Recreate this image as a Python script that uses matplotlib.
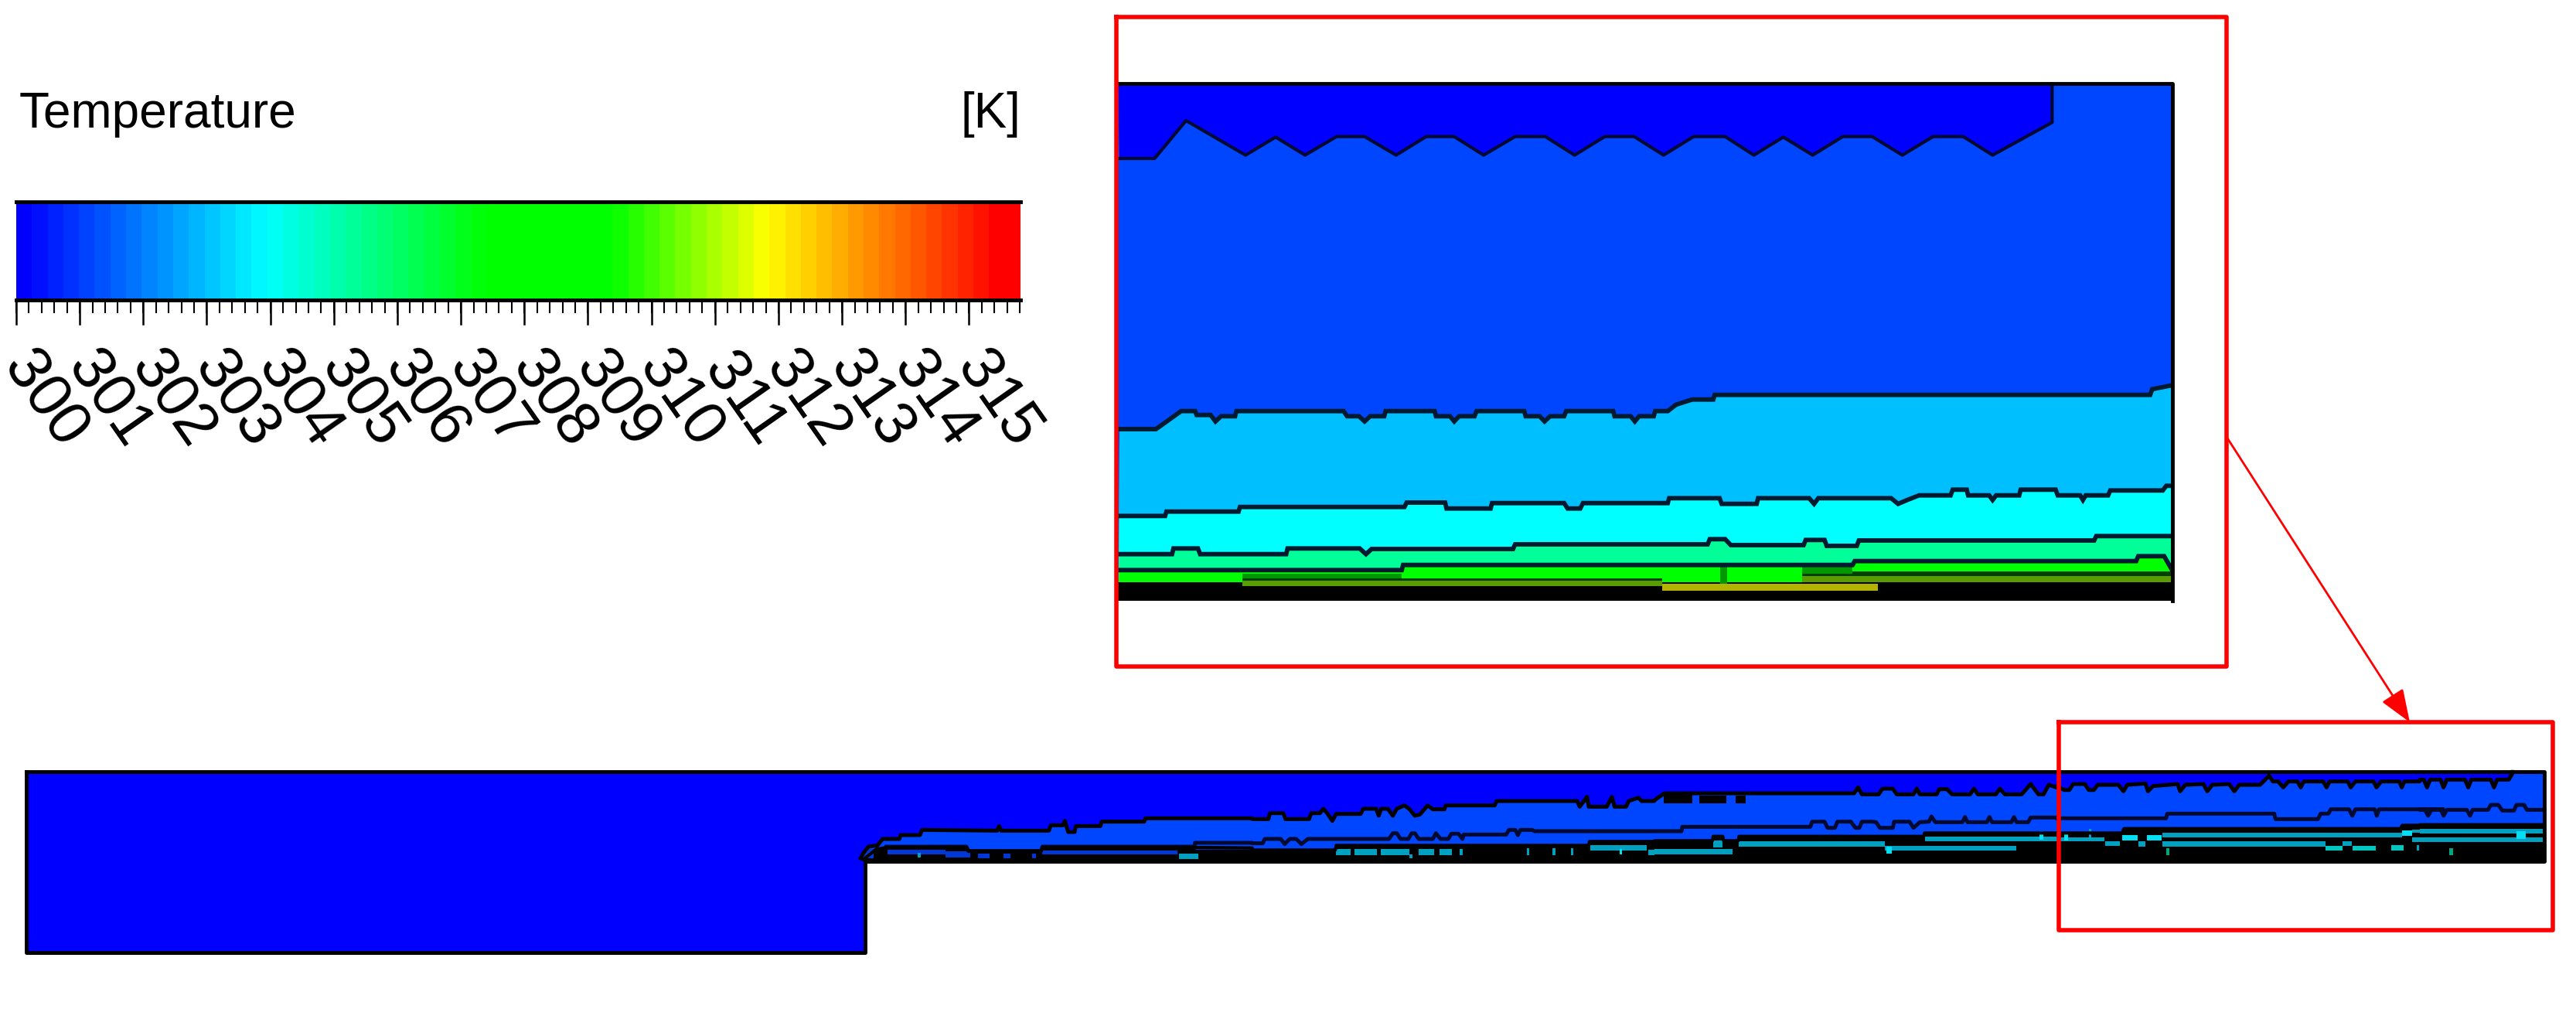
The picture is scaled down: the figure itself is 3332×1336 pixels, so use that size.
import matplotlib
matplotlib.use("Agg")
import matplotlib.pyplot as plt
import numpy as np
from matplotlib.colors import LinearSegmentedColormap

W, H = 3332, 1336
FONT = "Liberation Sans"

# legend
TICK_VALUES = list(range(300, 316))
CBAR_MIN, CBAR_MAX = 300, 315.81
CBAR_STOPS = [0.0, 0.245, 0.468, 0.595, 0.75, 0.985, 1.0]
CBAR_COLORS = ["#0000ff", "#00ffff", "#00ff00", "#00ff00", "#ffff00", "#ff0000", "#ff0000"]

DARK_BLUE = "#0000ff"
BLUE = "#0046ff"
SKY = "#00bfff"
CYAN = "#00ffff"
SPRING = "#00ff99"
GREEN = "#00ff00"
MID_GREEN = "#009800"
DARK_GREEN = "#004000"
OLIVE = "#5a9c00"
YELLOW = "#b4b400"
TEAL = "#00a0c0"
BRIGHT = "#00e0f5"
PALE = "#00c8c0"
SEA = "#00a880"
DEEP = "#0038d8"
NAVY = "#000a30"

INSET_1 = [(20,375),(70,375),(115,228),(200,362),(243,292),(285,362),(330,290),(370,290),(415,362),
           (458,290),(498,290),(540,362),(585,290),(628,290),(670,362),(713,290),(755,290),(797,362),
           (840,290),(885,290),(926,362),(968,292),(1010,362),(1053,290),(1095,290),(1138,362),
           (1182,290),(1225,290),(1267,362),(1352,235),(1352,85)]
INSET_2 = [(20,225),(72,225),(108,155),(128,155),(130,170),(150,170),(157,195),(165,175),(185,175),
           (187,155),(340,155),(345,175),(362,175),(370,195),(378,175),(398,175),(400,155),(470,155),
           (472,175),(492,175),(498,195),(505,175),(527,175),(530,155),(598,155),(600,175),(620,175),
           (627,195),(635,175),(655,175),(658,155),(725,155),(727,175),(750,175),(756,195),(762,175),
           (783,175),(785,155),(803,155),(815,130),(838,110),(868,110),(870,92),(1492,92),(1495,70),(1523,55)]
INSET_3 = [(20,562),(85,562),(87,545),(190,545),(192,527),(427,527),(430,510),(485,510),(487,533),
           (550,533),(552,512),(655,512),(660,533),(678,533),(682,512),(803,512),(805,493),(877,493),
           (880,515),(930,515),(932,493),(1005,493),(1012,515),(1018,493),(1122,493),(1132,515),
           (1145,500),(1162,482),(1207,482),(1210,460),(1230,460),(1232,482),(1262,482),(1267,500),
           (1272,482),(1305,482),(1307,460),(1357,460),(1360,482),(1392,482),(1396,500),(1400,482),
           (1432,482),(1435,463),(1510,463),(1515,445),(1523,445)]
INSET_4 = [(20,710),(95,710),(97,688),(132,688),(135,710),(258,710),(260,688),(363,688),(372,710),
           (380,690),(582,690),(585,672),(860,672),(863,652),(885,652),(893,675),(997,675),(1000,655),
           (1027,655),(1030,678),(1073,678),(1076,657),(1412,657),(1415,640),(1523,640)]
INSET_5 = [(20,772),(423,772),(425,752),(1067,752),(1070,737),(1472,737),(1475,718),(1512,718),(1523,770)]
INSET_BLOCKS = [(20,195,785,815,GREEN),(195,423,785,805,MID_GREEN),(195,795,805,812,DARK_GREEN),
                (195,795,812,835,OLIVE),(423,795,765,797,GREEN),(795,995,765,800,GREEN),
                (795,1103,825,852,YELLOW),(995,1067,760,785,MID_GREEN),(995,1103,785,795,DARK_GREEN),
                (995,1523,795,818,OLIVE),(1067,1523,750,778,GREEN),(1067,1523,778,795,DARK_GREEN),
                (878,888,760,825,MID_GREEN)]

# lower domain, one set of lists per crop of the reference, crop corner first
CROP_A = (1100, 1030)
CROP_B = (1620, 1010)
CROP_C = (2140, 1000)
CROP_D = (2660, 990)
CROP_E = (3130, 985)

TOP_A = [(40,240),(50,220),(70,195),(105,190),(125,165),(190,165),(195,150),(270,150),(278,130),(570,133),
         (577,115),(585,133),(770,133),(778,112),(825,112),(832,95),(845,138),(870,138),(875,115),(970,115),
         (975,98),(1140,98),(1145,85),(1559,85)]
TOP_B = [(0,148),(62,148),(68,125),(120,125),(128,148),(220,148),(228,125),(262,125),(275,108),(290,125),
         (310,155),(325,128),(420,128),(430,108),(480,108),(490,135),(500,108),(525,108),(545,135),(560,108),
         (590,95),(610,110),(630,135),(650,130),(680,95),(700,110),(745,110),(750,95),(940,95),(948,78),
         (1260,78),(1270,100),(1298,62),(1305,100),(1375,100),(1395,62),(1405,100),(1450,100),(1460,78),
         (1498,65),(1510,78),(1559,78)]
TOP_C = [(0,105),(38,78),(775,78),(790,55),(805,82),(870,82),(885,60),(925,60),(940,82),(1005,82),(1018,60),
         (1030,82),(1095,82),(1105,62),(1135,62),(1155,82),(1225,82),(1240,60),(1255,82),(1325,82),(1340,60),
         (1360,82),(1425,82),(1460,42),(1490,82),(1510,82),(1530,45),(1559,55)]
TOP_D = [(0,80),(30,95),(50,95),(65,72),(110,72),(125,95),(145,95),(160,75),(240,75),(260,100),(275,75),
         (345,70),(355,100),(375,80),(470,72),(480,100),(500,75),(570,72),(585,100),(605,75),(670,72),
         (690,100),(710,75),(790,75),(825,40),(840,62),(860,62),(880,85),(900,62),(935,62),(948,85),(960,62),
         (1035,62),(1048,85),(1060,62),(1130,62),(1142,85),(1160,62),(1230,62),(1242,85),(1260,62),(1330,62),
         (1340,85),(1350,62),(1409,62)]
TOP_E = [(0,70),(15,70),(28,100),(40,70),(80,70),(92,100),(105,70),(175,70),(188,100),(200,70),(275,70),
         (288,100),(300,70),(345,70),(360,45),(360,40)]

MID_A = [(140,195),(450,195),(458,212),(740,212),(745,195),(1335,195),(1337,180),(1559,180)]
MID_B = [(0,242),(40,242),(48,225),(110,225),(125,245),(145,225),(170,225),(190,245),(215,225),(530,225),
         (545,203),(560,203),(575,225),(605,225),(618,203),(630,203),(645,225),(700,225),(712,203),(730,225),
         (760,225),(772,205),(800,205),(815,225),(820,208),(985,208),(995,190),(1020,190),(1030,210),(1040,190),
         (1085,190),(1095,195),(1559,195)]
MID_C = [(0,225),(105,225),(108,208),(605,208),(612,188),(660,188),(672,212),(700,212),(710,188),(762,188),
         (780,212),(795,212),(805,188),(845,188),(860,190),(875,212),(925,212),(930,188),(990,188),(1005,212),
         (1030,190),(1065,188),(1075,168),(1090,190),(1195,190),(1205,170),(1215,190),(1290,190),(1300,170),
         (1310,190),(1385,190),(1395,170),(1405,190),(1450,190),(1460,172),(1559,172)]
MID_D = [(0,205),(425,205),(430,187),(845,187),(850,208),(1015,208),(1025,187),(1055,187),(1065,170),(1135,170),
         (1148,195),(1160,170),(1235,170),(1243,195),(1252,170),(1438,170),(1443,190),(1450,170),(1500,170),
         (1409,170)]
MID_E = [(0,187),(20,187),(32,210),(45,187),(82,187),(92,210),(105,187),(182,187),(195,210),(205,187),(265,187),
         (275,168),(305,168),(320,190),(365,190),(375,168),(405,168),(415,187),(478,187)]

BOT_A = [(50,245),(100,205),(140,198),(450,198),(458,212),(740,212),(745,198),(1335,198),(1559,200)]
BOT_B = [(0,268),(322,268),(325,250),(1305,250),(1308,235),(1559,235)]
BOT_C = [(0,262),(225,262),(228,245),(265,245),(268,262),(325,262),(328,245),(1045,245),(1048,232),(1559,232)]
BOT_D = [(0,262),(255,262),(262,245),(1335,245),(1342,232),(1409,232)]
BOT_E = [(0,245),(478,245)]

BLOCKS_A = [(50,90,205,240,DEEP),(145,370,208,225,DEEP),(370,465,212,238,DEEP),(495,540,222,240,DEEP),
            (595,620,222,240,DEEP),(705,720,222,240,DEEP),(745,1270,210,225,DEEP),(1337,1559,195,208,DEEP),
            (262,272,218,238,TEAL),(1275,1350,222,243,TEAL)]
BLOCKS_B = [(325,382,265,288,TEAL),(397,482,265,288,TEAL),(497,610,265,288,TEAL),(610,622,285,300,TEAL),
            (645,705,265,288,TEAL),(725,775,265,288,TEAL),(803,815,265,288,TEAL),(1065,1075,262,288,TEAL),
            (1165,1175,262,288,TEAL),(1235,1245,262,288,TEAL),(1310,1530,250,270,TEAL),(1425,1435,265,285,BRIGHT),
            (1535,1559,268,288,TEAL)]
BLOCKS_C = [(35,148,80,118,"black"),(175,278,88,118,"black"),(315,355,88,118,"black"),(0,303,295,315,TEAL),
            (228,265,262,288,TEAL),(328,895,265,285,TEAL),(895,1405,282,300,TEAL),(900,920,285,312,BRIGHT),
            (1050,1559,245,265,TEAL),(1495,1508,225,258,BRIGHT)]
BLOCKS_D = [(0,185,280,295,TEAL),(30,45,262,290,BRIGHT),(125,135,245,290,TEAL),(190,245,295,312,TEAL),
            (255,315,270,290,BRIGHT),(318,345,295,315,TEAL),(350,408,270,290,BRIGHT),(410,1340,262,280,TEAL),
            (410,1045,295,315,TEAL),(1045,1110,312,330,PALE),(1110,1145,295,312,TEAL),(1150,1240,312,330,PALE),
            (1298,1348,310,330,PALE),(1340,1380,252,272,BRIGHT),(1380,1409,248,262,TEAL),(1380,1409,280,297,TEAL),
            (425,438,322,348,SEA),(1398,1408,310,330,TEAL)]
BLOCKS_E = [(0,478,260,278,TEAL),(0,478,295,313,TEAL),(375,410,270,300,BRIGHT),(115,130,335,362,SEA)]


def crop(pts, corner, sx=3.0, sy=3.0):
    arr = np.array(pts, dtype=float)
    return arr[:, 0] / sx + corner[0], arr[:, 1] / sy + corner[1]


def inset(pts):
    return crop(pts, (1430, 480), 1568 / 1420, 3)


def joined(*parts):
    xs, ys = [], []
    for pts, corner in parts:
        x, y = crop(pts, corner)
        xs.append(x)
        ys.append(y)
    return np.concatenate(xs), np.concatenate(ys)


def rect(ax, x0, x1, y0, y1, color, z):
    ax.fill([x0, x1, x1, x0], [y0, y0, y1, y1], color=color, lw=0, zorder=z)


fig = plt.figure(figsize=(W / 100, H / 100), dpi=100)
ax = fig.add_axes([0, 0, 1, 1])

# legend
ax.text(25, 165, "Temperature", fontsize=46, family=FONT, ha="left", va="baseline")
ax.text(1320, 165, "[K]", fontsize=46, family=FONT, ha="right", va="baseline")

cmap = LinearSegmentedColormap.from_list("cfd", list(zip(CBAR_STOPS, CBAR_COLORS)), N=64)
cb_x0, cb_x1, cb_y0, cb_y1 = 21, 1320, 261, 388
scale = (cb_x1 - cb_x0) / (CBAR_MAX - CBAR_MIN)
ax.imshow(np.linspace(0, 1, 64)[None, :], cmap=cmap, extent=[cb_x0, cb_x1, cb_y1, cb_y0],
          aspect="auto", interpolation="nearest", zorder=2)
ax.set_xlim(0, W)
ax.set_ylim(H, 0)
ax.axis("off")
ax.plot([cb_x0, cb_x1], [cb_y0, cb_y0], color="black", lw=3.5, zorder=3)
ax.plot([cb_x0, cb_x1], [cb_y1, cb_y1], color="black", lw=3.5, zorder=3)
for v in np.arange(CBAR_MIN, CBAR_MAX, 0.2):
    x = cb_x0 + (v - CBAR_MIN) * scale
    ax.plot([x, x], [cb_y1, 404], color="black", lw=1.5, zorder=3)
for t in TICK_VALUES:
    x = cb_x0 + (t - CBAR_MIN) * scale
    ax.plot([x, x], [cb_y1, 419], color="black", lw=1.8, zorder=3)
    ax.text(x + 37, 517, str(t), fontsize=57, family=FONT, rotation=-55, ha="center", va="center")

# upper inset
ix0, ix1, iy0, iy1 = 1446, 2810, 108, 777
rect(ax, ix0, ix1, iy0, iy1, BLUE, 2)
x1, y1 = crop(INSET_1, (1430, 80), 1568 / 1420, 3)
ax.fill(np.r_[ix0, x1], np.r_[iy0, y1], color=DARK_BLUE, lw=0, zorder=3)
for i, (pts, col) in enumerate([(INSET_2, SKY), (INSET_3, CYAN), (INSET_4, SPRING), (INSET_5, GREEN)]):
    x, y = inset(pts)
    ax.fill(np.r_[x, ix1, ix0], np.r_[y, iy1, iy1], color=col, lw=0, zorder=4 + i)
_, floor_y = inset([(0, 818)])
rect(ax, ix0, ix1, floor_y[0], iy1, "black", 9)
for bx0, bx1, by0, by1, col in INSET_BLOCKS:
    xs, ys = inset([(bx0, by0), (bx1, by1)])
    rect(ax, xs[0], xs[1], ys[0], ys[1], col, 10)
ax.plot(x1, y1, color=NAVY, lw=3, zorder=11)
for pts in [INSET_2, INSET_3, INSET_4, INSET_5]:
    x, y = inset(pts)
    ax.plot(x, y, color="#001a30", lw=4.2, zorder=11, solid_joinstyle="miter")
ax.plot([ix0, ix1, ix1], [iy0, iy0, iy1], color="black", lw=3.5, zorder=12)

# lower domain
lx0, lstep, lx1, ltop, lchan, lbot = 34, 1119, 3291, 998, 1114, 1232
rect(ax, lx0, lstep, ltop, lbot, DARK_BLUE, 2)
rect(ax, lstep, lx1, ltop, lchan, DARK_BLUE, 2)
top_x, top_y = joined((TOP_A, CROP_A), (TOP_B, CROP_B), (TOP_C, CROP_C), (TOP_D, CROP_D), (TOP_E, CROP_E))
mid_x, mid_y = joined((MID_A, CROP_A), (MID_B, CROP_B), (MID_C, CROP_C), (MID_D, CROP_D), (MID_E, CROP_E))
bot_x, bot_y = joined((BOT_A, CROP_A), (BOT_B, CROP_B), (BOT_C, CROP_C), (BOT_D, CROP_D), (BOT_E, CROP_E))
ax.fill(np.r_[top_x, lx1, lx1, lstep], np.r_[top_y, ltop, lchan, lchan], color=BLUE, lw=0, zorder=3)
ax.fill(np.r_[bot_x, lx1, lstep], np.r_[bot_y, lchan, lchan], color="black", lw=0, zorder=4)
for blocks, corner in [(BLOCKS_A, CROP_A), (BLOCKS_B, CROP_B), (BLOCKS_C, CROP_C), (BLOCKS_D, CROP_D), (BLOCKS_E, CROP_E)]:
    for bx0, bx1, by0, by1, col in blocks:
        xs, ys = crop([(bx0, by0), (bx1, by1)], corner)
        rect(ax, xs[0], xs[1], ys[0], ys[1], col, 5)
ax.plot(top_x, top_y, color="black", lw=3.6, zorder=6)
ax.plot(mid_x, mid_y, color=NAVY, lw=3.6, zorder=6)
ax.plot(bot_x, bot_y, color="black", lw=3, zorder=6)
ax.plot([lx0, lx1, lx1, lstep, lstep, lx0, lx0], [ltop, ltop, lchan, lchan, lbot, lbot, ltop],
        color="black", lw=3.5, zorder=7)

# red call-out boxes and arrow
ax.plot([1444, 2880, 2880, 1444, 1444], [22, 22, 862, 862, 22], color="#ff0000", lw=4, zorder=13)
ax.plot([2663, 3302, 3302, 2663, 2663], [934, 934, 1203, 1203, 934], color="#ff0000", lw=4, zorder=13)
ax.annotate("", xy=(3117, 934), xytext=(2880, 565), zorder=13,
            arrowprops=dict(arrowstyle="-|>,head_length=1.3,head_width=0.5", color="#ff0000", lw=2,
                            shrinkA=0, shrinkB=0, mutation_scale=20))

fig.savefig("out.png", dpi=100, facecolor="white")
